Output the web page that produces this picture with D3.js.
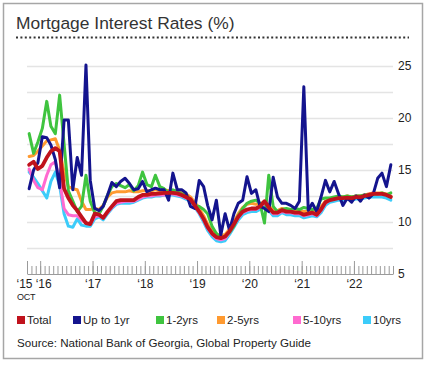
<!DOCTYPE html>
<html><head><meta charset="utf-8">
<script src="https://cdn.jsdelivr.net/npm/d3@7"></script>
<style>
body{margin:0;background:#fff}
text{font-family:"Liberation Sans",Arial,sans-serif}
</style>
</head><body>
<svg id="chart" width="427" height="365"></svg>
<script>
// ---------- data ----------
const title = "Mortgage Interest Rates (%)";
const sourceText = "Source: National Bank of Georgia, Global Property Guide";
const startMonth = new Date(2015, 9, 1);   // Oct 2015
const endMonth = new Date(2022, 9, 1);     // axis end (Oct 2022)
const months = d3.timeMonth.range(startMonth, endMonth); // Oct 2015 .. Sep 2022
const yearTickDates = [new Date(2015,9,1), new Date(2016,0,1), new Date(2017,0,1), new Date(2018,0,1),
  new Date(2019,0,1), new Date(2020,0,1), new Date(2021,0,1), new Date(2022,0,1)];
const yearLabels = ["\u201815", "\u201816", "\u201817", "\u201818", "\u201819", "\u201820", "\u201821", "\u201822"];
const yTickValues = [5, 10, 15, 20, 25];
const gridValues = [7.5, 10, 12.5, 15, 17.5, 20, 22.5, 25];
const seriesNames = ["Total", "Up to 1yr", "1-2yrs", "2-5yrs", "5-10yrs", "10yrs"];

const total = [15.5,15.8,15.1,15.4,16.2,16.8,17.1,16.8,13.2,12.3,
  11.6,11.1,10.5,9.9,9.8,10.8,10.7,10.4,11.0,11.5,
  12.0,12.1,12.1,12.1,12.1,12.4,12.6,12.6,12.7,12.7,
  12.75,12.8,12.8,12.8,12.75,12.6,12.4,12.2,11.6,11.0,
  10.3,9.5,8.9,8.55,8.45,8.6,9.1,9.8,10.5,11.0,
  11.2,11.3,11.3,11.5,12.0,11.4,10.9,10.9,11.15,11.0,
  11.0,10.9,10.9,10.7,10.8,10.9,10.7,11.2,11.9,12.1,
  12.2,12.3,12.3,12.35,12.3,12.4,12.4,12.5,12.6,12.7,
  12.7,12.7,12.6,12.4];
const upTo1yr = [13.2,15.0,15.7,18.2,18.1,17.4,16.0,13.3,19.8,19.8,
  13.1,16.2,14.5,25.1,14.0,11.3,11.1,11.5,12.6,13.8,
  13.4,13.9,14.2,13.7,13.1,13.2,13.9,12.9,13.1,13.25,
  13.1,13.1,12.1,14.7,13.1,13.1,12.8,11.5,11.3,14.0,
  13.4,11.6,10.2,12.1,8.75,10.8,9.2,10.8,11.8,12.1,
  14.35,12.75,13.1,11.5,11.3,11.0,14.3,12.4,11.8,11.8,
  11.6,11.3,12.0,23.0,11.1,11.8,11.0,12.4,14.0,12.9,
  13.9,12.7,11.6,12.3,11.9,12.5,12.0,12.6,12.3,12.7,
  14.2,14.7,13.4,15.5];
const yrs1to2 = [18.5,16.6,17.7,19.0,21.6,19.2,18.5,22.2,17.5,13.0,
  12.0,11.0,11.5,14.5,12.0,10.9,10.8,11.5,12.6,13.4,
  13.7,13.5,13.3,13.6,13.0,13.5,14.8,13.6,13.4,14.5,
  13.4,13.2,12.8,13.1,12.9,12.7,12.6,12.1,11.6,11.5,
  11.2,10.8,9.6,8.9,8.5,8.6,9.0,9.6,10.6,11.3,
  11.8,12.0,12.1,11.8,9.9,14.5,11.5,11.0,11.2,11.3,
  11.2,11.3,11.2,11.4,11.3,11.2,11.3,12.2,12.3,12.3,
  12.4,12.5,12.4,12.5,12.4,12.5,12.5,12.6,12.6,12.7,
  12.7,12.8,12.6,12.8];
const yrs2to5 = [16.3,16.4,16.8,17.3,17.8,17.9,18.0,16.9,14.8,13.4,
  13.2,13.1,12.0,11.2,11.2,11.3,11.2,11.6,12.4,12.8,
  12.9,12.9,12.9,13.0,12.9,12.9,13.0,13.0,13.0,13.1,
  13.0,13.1,13.0,13.0,13.0,12.9,12.7,12.4,11.9,11.3,
  10.6,9.8,9.1,8.8,8.7,8.8,9.3,10.0,10.8,11.4,
  11.7,11.8,11.7,11.7,12.0,11.6,11.1,11.1,11.3,11.2,
  11.2,11.1,11.1,11.0,11.0,11.1,11.0,11.5,12.0,12.2,
  12.3,12.4,12.4,12.5,12.4,12.5,12.5,12.6,12.7,12.8,
  12.8,12.8,12.7,12.5];
const yrs5to10 = [15.1,14.0,13.3,13.1,14.5,15.5,15.8,14.0,11.3,10.7,
  10.6,10.6,10.2,9.9,9.8,10.5,10.6,10.4,10.9,11.4,
  11.8,11.9,12.0,12.0,12.0,12.2,12.4,12.5,12.5,12.6,
  12.6,12.6,12.7,12.7,12.6,12.5,12.3,12.1,11.5,10.9,
  10.2,9.4,8.8,8.4,8.3,8.4,9.0,9.7,10.4,10.9,
  11.1,11.2,11.2,11.4,11.8,11.3,10.8,10.8,11.0,10.9,
  10.9,10.8,10.8,10.6,10.7,10.8,10.6,11.1,11.8,12.1,
  12.2,12.3,12.4,12.4,12.4,12.5,12.5,12.6,12.7,12.8,
  12.7,12.7,12.6,12.5];
const yrs10 = [14.8,14.3,13.7,13.0,12.3,13.9,14.8,13.5,10.8,9.6,
  9.5,10.3,9.7,9.6,9.6,10.3,10.5,10.2,10.8,11.3,
  11.7,11.8,11.8,11.8,11.9,12.1,12.3,12.4,12.4,12.5,
  12.5,12.6,12.6,12.6,12.5,12.4,12.2,12.0,11.4,10.8,
  10.0,9.2,8.6,8.2,8.1,8.2,8.8,9.5,10.2,10.7,
  10.9,11.0,11.0,11.2,11.6,11.1,10.6,10.6,10.9,10.7,
  10.7,10.6,10.6,10.4,10.5,10.6,10.5,10.9,11.6,11.9,
  12.0,12.1,12.1,12.2,12.1,12.2,12.2,12.3,12.4,12.4,
  12.4,12.4,12.3,12.1];

// ---------- styles / layout ----------
const colors = {"Total":"#c0121c","Up to 1yr":"#14148e","1-2yrs":"#3fc43f","2-5yrs":"#ff9a30","5-10yrs":"#ff6ad0","10yrs":"#3cccfa"};
const valuesByName = {"Total":total,"Up to 1yr":upTo1yr,"1-2yrs":yrs1to2,"2-5yrs":yrs2to5,"5-10yrs":yrs5to10,"10yrs":yrs10};
const drawOrder = ["10yrs","5-10yrs","2-5yrs","1-2yrs","Up to 1yr","Total"];
const legendX = [17, 73, 156, 217, 293, 363];

const svg = d3.select("#chart");
const plotL = 27, plotR = 393, plotT = 66, plotB = 274;

svg.append("rect").attr("x",3.5).attr("y",3.5).attr("width",419).attr("height",355)
  .attr("fill","#fff").attr("stroke","#a6a6a6").attr("stroke-width",1.5);

svg.append("text").attr("x",16).attr("y",29).attr("font-size",17.4).attr("fill","#333")
  .text(title);
svg.append("line").attr("x1",16).attr("x2",409).attr("y1",37.5).attr("y2",37.5)
  .attr("stroke","#333").attr("stroke-width",2).attr("stroke-dasharray","2,2.4");

const x = d3.scaleTime().domain([startMonth, endMonth]).range([plotL, plotR]);
const y = d3.scaleLinear().domain([5, 25]).range([plotB, plotT]);

// gridlines
const gridG = svg.append("g").attr("transform",`translate(${plotR},0)`)
  .call(d3.axisLeft(y).tickValues(gridValues).tickSize(plotR-plotL).tickFormat(""));
gridG.select(".domain").remove();
gridG.selectAll("line").attr("stroke","#e4e4e4").attr("stroke-width",1.5);

// y labels
const yAx = svg.append("g").attr("transform",`translate(${plotR},0)`)
  .call(d3.axisRight(y).tickValues(yTickValues).tickSize(0).tickPadding(5));
yAx.select(".domain").remove();
yAx.selectAll("text").attr("font-size",12).attr("fill","#222").attr("font-family","Liberation Sans, Arial, sans-serif");

// x ticks: minor (monthly) and major (year)
const minorG = svg.append("g").attr("transform",`translate(0,${plotB})`)
  .call(d3.axisTop(x).tickValues(months.concat([endMonth])).tickSize(8).tickSizeOuter(0).tickFormat(""));
minorG.selectAll("line").attr("stroke","#9a9a9a");
minorG.select(".domain").attr("stroke","#9a9a9a").attr("stroke-width",1.2);
const majorG = svg.append("g").attr("transform",`translate(0,${plotB})`)
  .call(d3.axisTop(x).tickValues(yearTickDates).tickSize(13).tickSizeOuter(0).tickFormat(""));
majorG.selectAll("line").attr("stroke","#9a9a9a");
majorG.select(".domain").remove();

// x labels
const labelG = svg.append("g").attr("transform",`translate(0,${plotB})`)
  .call(d3.axisBottom(x).tickValues(yearTickDates).tickSize(0).tickPadding(5)
    .tickFormat((d,i)=>yearLabels[i]));
labelG.select(".domain").remove();
labelG.selectAll("text").attr("font-size",12).attr("fill","#222")
  .attr("font-family","Liberation Sans, Arial, sans-serif")
  .attr("dx",(d,i)=> i===0 ? -3 : (i===1 ? 3 : 0));
svg.append("text").attr("x",17).attr("y",300).attr("font-size",9).attr("fill","#222")
  .attr("letter-spacing",-0.3).text("OCT");

// lines
const mid = d => d3.timeDay.offset(d, 15);
const line = d3.line().x((v,i)=>x(mid(months[i]))).y(v=>y(v)).curve(d3.curveLinear);
drawOrder.forEach(name=>{
  svg.append("path").datum(valuesByName[name])
    .attr("d",line).attr("fill","none").attr("stroke",colors[name])
    .attr("stroke-width", name==="Total"?3.8:3)
    .attr("stroke-linejoin","round").attr("stroke-linecap","round");
});

// legend
const leg = svg.append("g");
seriesNames.forEach((name,i)=>{
  leg.append("rect").attr("x",legendX[i]).attr("y",316).attr("width",8).attr("height",8)
    .attr("fill",colors[name]);
  leg.append("text").attr("x",legendX[i]+10).attr("y",324).attr("font-size",11.5).attr("fill","#222")
    .text(name);
});

svg.append("text").attr("x",17).attr("y",347).attr("font-size",11.6).attr("fill","#222")
  .text(sourceText);
</script>
</body></html>
